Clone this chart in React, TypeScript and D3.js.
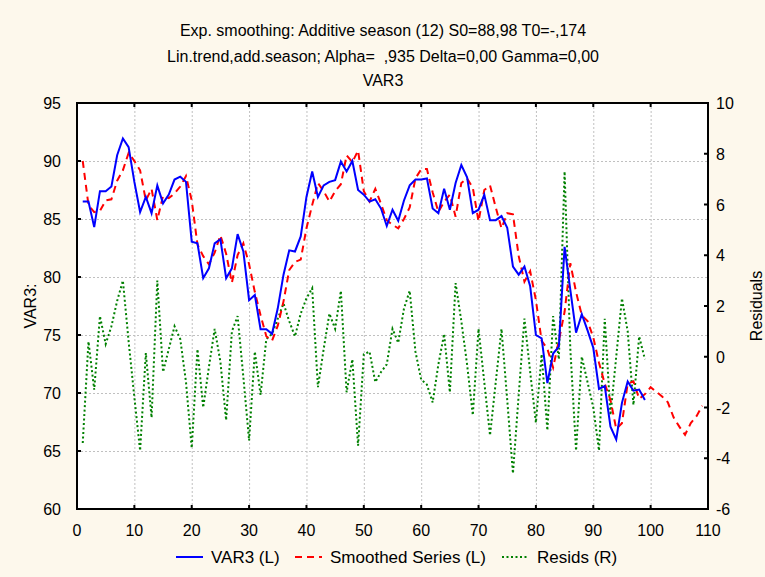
import { useEffect, useRef } from 'react'
import * as d3 from 'd3'

// VAR3 observed values, t = 1..99
const var3 = [
  86.5, 86.5, 84.3, 87.4, 87.4, 87.8, 90.5, 91.95, 91.2, 88.2,
  85.6, 86.9, 85.5, 87.9, 86.35, 87.1, 88.4, 88.65, 88.2, 83.05,
  82.9, 79.9, 80.75, 82.9, 83.25, 79.9, 80.75, 83.7, 82.2, 78.0,
  78.45, 75.5, 75.5, 75.1, 77.3, 80.2, 82.3, 82.2, 83.5, 86.9,
  89.1, 86.9, 87.9, 88.2, 88.35, 89.95, 89.1, 90.0, 87.5, 87.1,
  86.5, 86.7, 85.9, 84.4, 85.8, 84.85, 86.6, 87.9, 88.4, 88.4,
  88.5, 85.9, 85.5, 87.6, 85.8, 88.1, 89.65, 88.6, 85.5, 85.8,
  87.1, 84.9, 84.9, 85.25, 84.25, 80.9, 80.2, 80.9, 79.2, 75.0,
  74.7, 70.85, 73.4, 74.0, 82.6, 78.9, 75.2, 76.8, 75.4, 73.9,
  70.35, 70.6, 67.1, 66.0, 69.15, 71.0, 70.2, 70.3, 69.4
]

// smoothed series incl. forecast, t = 1..109
const smoothed = [
  90.0, 86.2, 85.6, 85.7, 86.6, 86.7, 88.3, 89.2, 90.7, 90.0,
  89.2, 86.6, 87.6, 84.9, 87.0, 86.8, 87.2, 87.8, 88.7, 86.6,
  82.8, 81.8, 81.1, 82.1, 83.6, 82.0, 79.5, 81.9, 82.9, 81.1,
  78.7, 76.7, 74.9, 74.5, 75.8, 77.9, 80.6, 81.3, 81.5, 84.2,
  86.2, 88.1, 87.4, 86.5, 87.4, 88.0, 90.5, 89.9, 90.9, 87.4,
  86.5, 87.6, 86.3, 84.9, 84.5, 84.2, 85.0, 86.0, 88.5, 89.3,
  89.3, 87.3, 85.6, 86.5, 87.1, 85.2, 88.1, 88.5, 87.7, 84.8,
  87.5, 87.9, 86.0, 84.2, 85.5, 85.4, 81.8, 79.6, 80.5, 78.0,
  74.5, 73.8, 72.2, 74.5, 77.0, 81.2, 78.7, 76.7, 76.2, 74.8,
  72.6, 70.8, 69.4, 66.9, 67.4, 70.8, 71.0, 69.5, 69.9,
  70.5, 70.1, 69.7, 69.2, 67.9, 67.1, 66.4, 67.4, 68.0, 68.9
]

// residuals (right axis), t = 1..99
const resids = [
  -3.4, 0.6, -1.3, 1.6, 0.5, 1.2, 2.2, 3.0, 0.6, -1.6,
  -3.7, 0.15, -2.4, 3.0, -0.6, 0.3, 1.2, 0.7, -1.0, -3.6,
  0.3, -2.0, -0.4, 1.1, -0.2, -2.5, 1.0, 1.6, -0.8, -3.3,
  0.2, -1.5, 0.7, 0.9, 1.5, 2.1, 1.4, 0.8, 1.7, 2.3,
  2.7, -1.2, 0.3, 1.7, 1.1, 2.6, -1.4, -0.1, -3.5, 0.1,
  0.2, -1.0, -0.6, -0.3, 1.1, 0.55, 1.9, 2.6, 0.2, -0.9,
  -1.1, -1.8, -0.3, 0.9, -1.4, 2.9, 1.4, -0.3, -2.3, 1.1,
  -1.0, -3.1, -1.0, 1.1, -1.7, -4.6, -1.5, 1.5, -0.6, -2.6,
  0.1, -2.9, 1.6, -0.1, 7.3, 0.3, -3.7, 0.0, -1.0, -2.0,
  -3.7, 1.5, -2.3, 0.0, 2.3, 1.0, -1.9, 0.8, -0.1
]

const xTicks = [0, 10, 20, 30, 40, 50, 60, 70, 80, 90, 100, 110]
const leftTicks = [60, 65, 70, 75, 80, 85, 90, 95]
const rightTicks = [-6, -4, -2, 0, 2, 4, 6, 8, 10]

const titles = [
  'Exp. smoothing: Additive season (12) S0=88,98 T0=-,174',
  'Lin.trend,add.season; Alpha=  ,935 Delta=0,00 Gamma=0,00',
  'VAR3'
]

const legendItems = [
  { label: 'VAR3 (L)', color: '#0000ff', dash: null },
  { label: 'Smoothed Series (L)', color: '#ff0000', dash: '7,5' },
  { label: 'Resids (R)', color: '#008000', dash: '2,2.5' }
]

const FONT = '"Liberation Sans", Arial, sans-serif'

const ExpSmoothingChart = () => {
  const ref = useRef<SVGSVGElement>(null)

  useEffect(() => {
    if (!ref.current) return
    const width = 765
    const height = 577
    const svg = d3.select(ref.current)
    svg.selectAll('*').remove()

    const left = 77, right = 708, top = 103, bottom = 509

    const x = d3.scaleLinear().domain([0, 110]).range([left, right])
    const yL = d3.scaleLinear().domain([60, 95]).range([bottom, top])
    const yR = d3.scaleLinear().domain([-6, 10]).range([bottom, top])

    svg.append('rect').attr('width', width).attr('height', height).attr('fill', '#fdf8ec')
    svg.append('rect')
      .attr('x', left).attr('y', top)
      .attr('width', right - left).attr('height', bottom - top)
      .attr('fill', '#ffffff')

    // titles
    const titleY = [36, 62, 86]
    titles.forEach((t, i) => {
      svg.append('text')
        .attr('x', 383)
        .attr('y', titleY[i])
        .attr('text-anchor', 'middle')
        .style('font-family', FONT)
        .style('font-size', '16px')
        .style('fill', '#000')
        .style('white-space', 'pre')
        .text(t)
    })

    // grid
    const grid = svg.append('g')
      .attr('stroke', '#c0c0c0')
      .attr('stroke-width', 1)
      .attr('stroke-dasharray', '2,2')
    xTicks.slice(1, -1).forEach(v => {
      grid.append('line')
        .attr('x1', x(v) + 0.5).attr('x2', x(v) + 0.5)
        .attr('y1', top).attr('y2', bottom)
    })
    leftTicks.slice(1, -1).forEach(v => {
      grid.append('line')
        .attr('x1', left).attr('x2', right)
        .attr('y1', Math.round(yL(v)) + 0.5).attr('y2', Math.round(yL(v)) + 0.5)
    })

    // series
    const plot = svg.append('g')
    const lineL = d3.line<number>().x((_, i) => x(i + 1)).y(d => yL(d))
    const lineR = d3.line<number>().x((_, i) => x(i + 1)).y(d => yR(d))

    plot.append('path')
      .datum(resids)
      .attr('d', lineR)
      .attr('fill', 'none')
      .attr('stroke', '#008000')
      .attr('stroke-width', 2)
      .attr('stroke-dasharray', '2,2.5')

    plot.append('path')
      .datum(smoothed)
      .attr('d', lineL)
      .attr('fill', 'none')
      .attr('stroke', '#ff0000')
      .attr('stroke-width', 2)
      .attr('stroke-dasharray', '7,5')

    plot.append('path')
      .datum(var3)
      .attr('d', lineL)
      .attr('fill', 'none')
      .attr('stroke', '#0000ff')
      .attr('stroke-width', 2)

    // frame
    svg.append('rect')
      .attr('x', left).attr('y', top)
      .attr('width', right - left).attr('height', bottom - top)
      .attr('fill', 'none')
      .attr('stroke', '#000')
      .attr('stroke-width', 2)

    const ticks = svg.append('g').attr('stroke', '#000').attr('stroke-width', 2)
    xTicks.slice(1, -1).forEach(v => {
      ticks.append('line').attr('x1', x(v)).attr('x2', x(v)).attr('y1', top).attr('y2', top + 4)
      ticks.append('line').attr('x1', x(v)).attr('x2', x(v)).attr('y1', bottom).attr('y2', bottom - 4)
    })
    leftTicks.slice(1, -1).forEach(v => {
      ticks.append('line').attr('x1', left).attr('x2', left + 4).attr('y1', yL(v)).attr('y2', yL(v))
    })
    rightTicks.slice(1, -1).forEach(v => {
      ticks.append('line').attr('x1', right).attr('x2', right - 4).attr('y1', yR(v)).attr('y2', yR(v))
    })

    // tick labels
    const label = (sel: any, size = 16) => sel
      .style('font-family', FONT)
      .style('font-size', `${size}px`)
      .style('fill', '#000')

    xTicks.forEach(v => {
      label(svg.append('text'))
        .attr('x', x(v)).attr('y', bottom + 27)
        .attr('text-anchor', 'middle')
        .text(v)
    })
    leftTicks.forEach(v => {
      label(svg.append('text'))
        .attr('x', left - 16).attr('y', yL(v) + 6)
        .attr('text-anchor', 'end')
        .text(v)
    })
    rightTicks.forEach(v => {
      label(svg.append('text'))
        .attr('x', right + 8).attr('y', yR(v) + 6)
        .attr('text-anchor', 'start')
        .text(v)
    })

    // axis titles
    label(svg.append('text'))
      .attr('transform', `translate(36,${(top + bottom) / 2}) rotate(-90)`)
      .attr('text-anchor', 'middle')
      .text('VAR3:')
    label(svg.append('text'))
      .attr('transform', `translate(762,${(top + bottom) / 2}) rotate(-90)`)
      .attr('text-anchor', 'middle')
      .text('Residuals')

    // legend
    const legendX = [176, 295, 502]
    legendItems.forEach((item, i) => {
      const lx = legendX[i]
      const ly = 557
      const l = svg.append('line')
        .attr('x1', lx).attr('x2', lx + 27)
        .attr('y1', ly).attr('y2', ly)
        .attr('stroke', item.color)
        .attr('stroke-width', 2)
      if (item.dash) l.attr('stroke-dasharray', item.dash)
      label(svg.append('text'), 17)
        .attr('x', lx + 35).attr('y', ly + 6)
        .text(item.label)
    })
  }, [])

  return (
    <svg
      ref={ref}
      width={765}
      height={577}
      style={{ position: 'absolute', left: 0, top: 0, display: 'block' }}
    />
  )
}

export default function App() {
  return <ExpSmoothingChart />
}
